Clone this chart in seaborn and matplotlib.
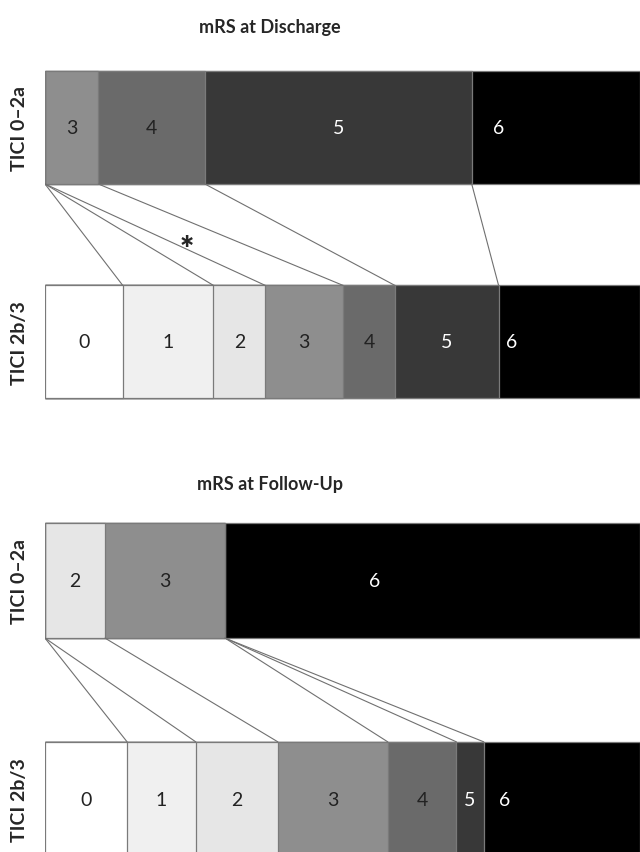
import pandas as pd
import matplotlib.pyplot as plt
import seaborn as sns

# mRS levels and groups
levels = [0, 1, 2, 3, 4, 5, 6]
groups = ["TICI 0–2a", "TICI 2b/3"]

# percentages per mRS level
discharge_low = [0, 0, 0, 11.1, 22.2, 55.6, 11.1]
discharge_high = [16.2, 18.9, 10.8, 16.2, 10.8, 21.6, 5.4]
followup_low = [0, 0, 12.5, 25.0, 0, 0, 62.5]
followup_high = [17.1, 14.3, 17.1, 22.9, 14.3, 5.7, 8.6]

titles = ["mRS at Discharge", "mRS at Follow-Up"]
shades = ["#ffffff", "#f0f0f0", "#e6e6e6", "#8e8e8e", "#6a6a6a", "#383838", "#000000"]

sns.set_style("white")
plt.rcParams['font.family'] = ['Lato', 'DejaVu Sans']

fig = plt.figure(figsize=(6.4, 8.53), dpi=100)

bar_w = 0.527
xmax = 123.96
panels = [
    (discharge_low, discharge_high, [0.0703, 0.4959, 0.9297, 0.5041], (1.406, -0.599)),
    (followup_low, followup_high, [0.0703, 0.0, 0.9297, 0.5041], (1.239, -0.722)),
]

axes = []
for low, high, rect, ylim in panels:
    ax = fig.add_axes(rect)
    df = pd.DataFrame({"level": levels, groups[0]: low, groups[1]: high})
    cum = df[groups].cumsum()
    # stacked bars: draw from the last level backwards
    for lvl in reversed(levels):
        vals = [cum.loc[lvl, g] for g in groups]
        if lvl == levels[-1]:
            vals = [xmax, xmax]
        sns.barplot(x=vals, y=groups, orient="h", order=groups, width=bar_w,
                    color=shades[lvl], edgecolor="#7a7a7a", linewidth=0.9,
                    saturation=1, ax=ax)
    # segment labels
    for gi, g in enumerate(groups):
        start = 0
        for lvl in levels:
            v = df.loc[lvl, g]
            if v > 0:
                ax.text(start + v / 2, gi, str(lvl), ha="center", va="center",
                        fontsize=14, color="white" if lvl >= 5 else "#222222")
            start += v
    # connecting lines between level boundaries
    for lvl in levels[:-1]:
        ax.plot([cum.loc[lvl, groups[0]], cum.loc[lvl, groups[1]]],
                [bar_w / 2, 1 - bar_w / 2], color="#707070", lw=0.8)
    ax.set_xlim(0, xmax)
    ax.set_ylim(*ylim)
    ax.set_xticks([])
    ax.set_xlabel("")
    ax.set_ylabel("")
    ax.set_yticks(range(len(groups)))
    ax.set_yticklabels(groups, rotation=90, va="center", fontsize=14, fontweight="bold")
    ax.tick_params(axis="y", length=0, pad=12)
    sns.despine(ax=ax, left=True, bottom=True)
    axes.append(ax)

# significance marker
axes[0].text(29.6, 0.57, "*", ha="center", va="center", fontsize=24, fontweight="heavy")

fig.text(270 / 640, 1 - 28 / 853, titles[0], ha="center", va="center",
         fontsize=13, fontweight="bold")
fig.text(270 / 640, 1 - 485 / 853, titles[1], ha="center", va="center",
         fontsize=13, fontweight="bold")

plt.savefig("out.png", dpi=100)
